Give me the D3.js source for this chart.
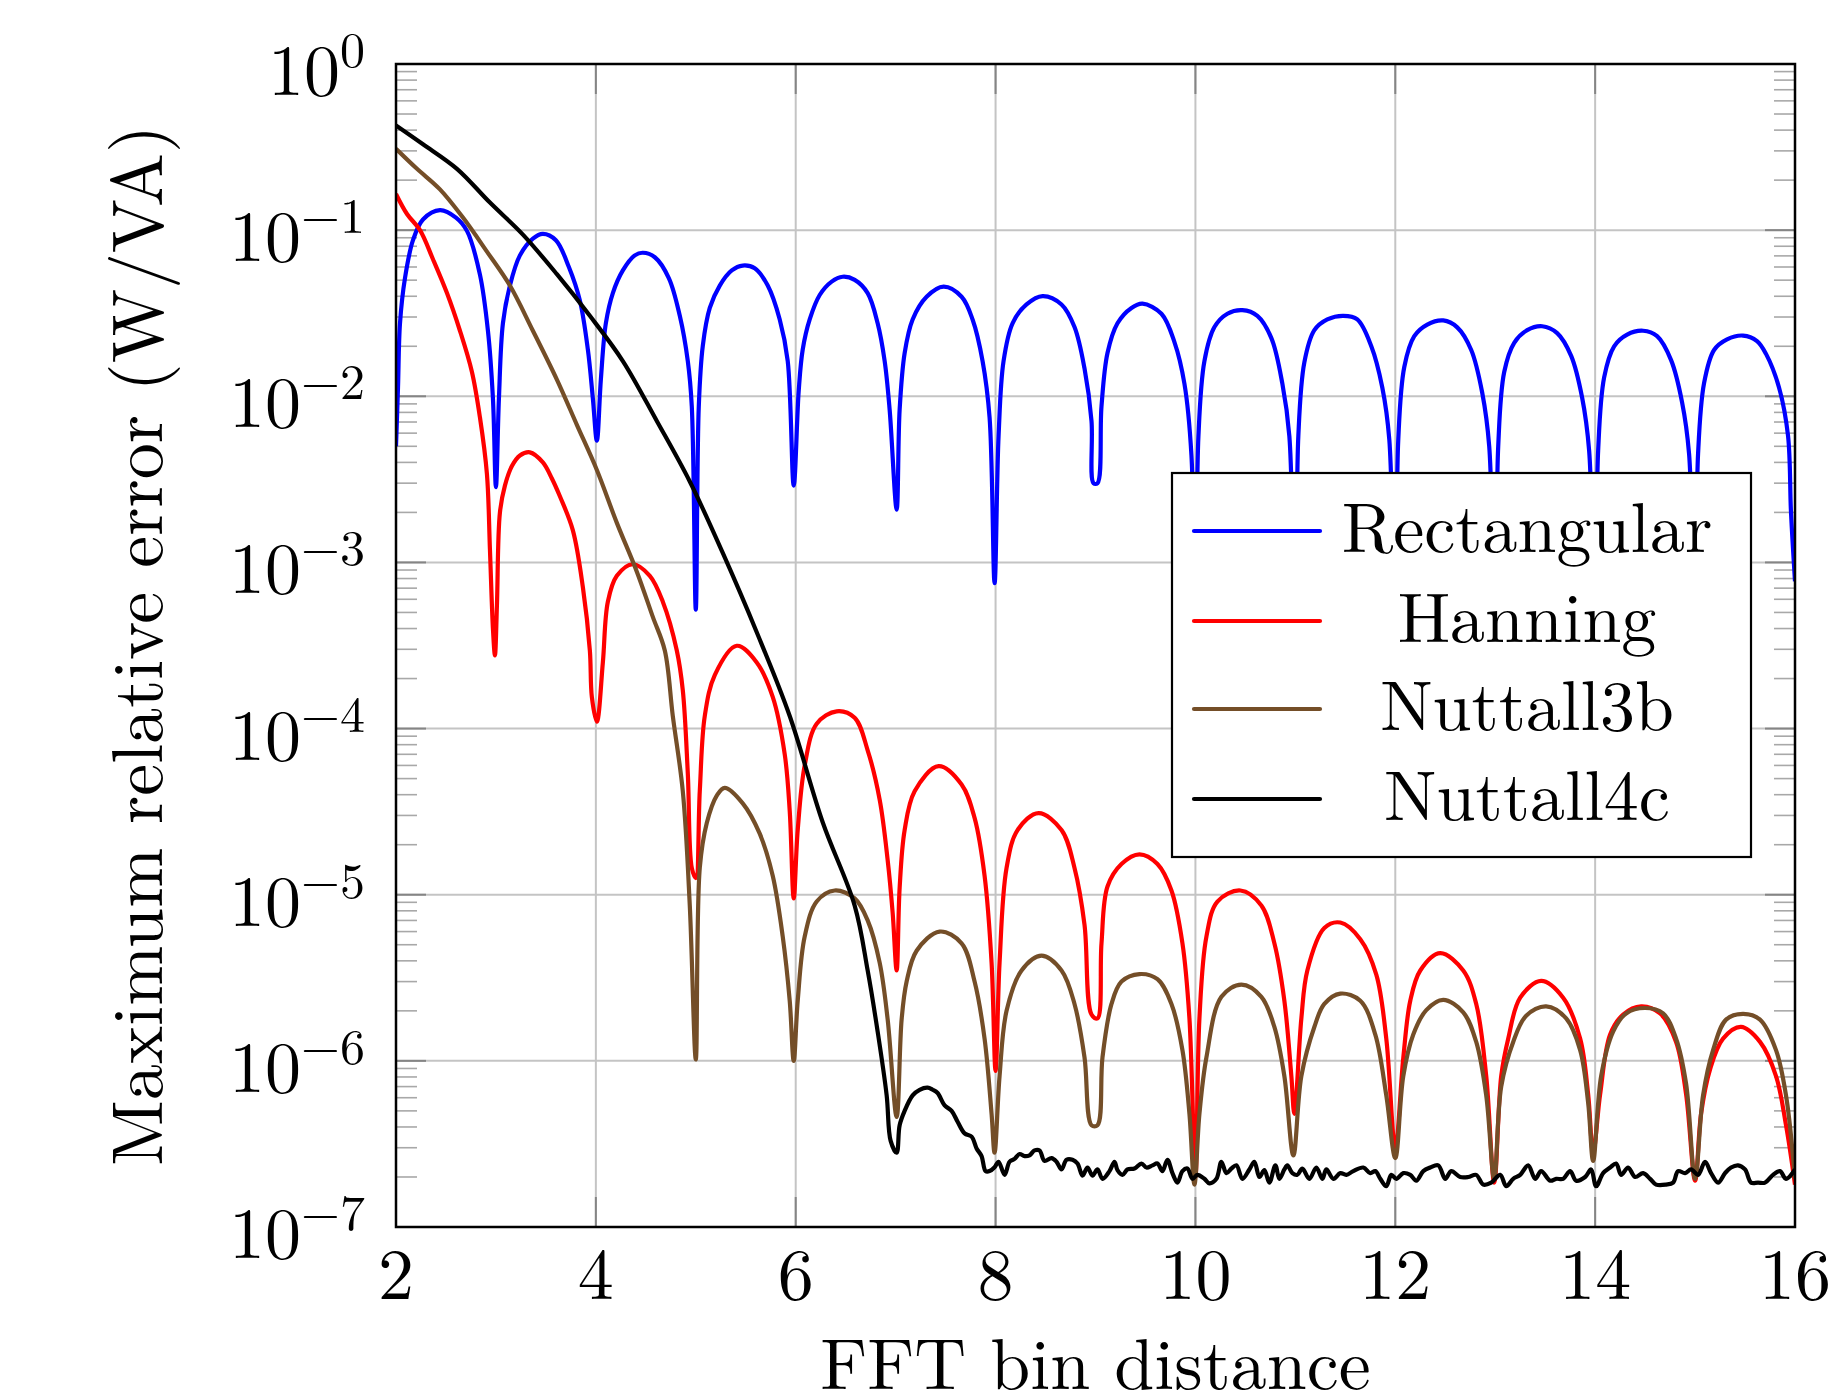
<!DOCTYPE html>
<html>
<head>
<meta charset="utf-8">
<script src="https://d3js.org/d3.v7.min.js"></script>
<style>
  body { margin: 0; background: #fff; }
  text { font-family: "Latin Modern Roman", "CMU Serif", "Liberation Serif", serif; fill: #000; }
</style>
</head>
<body>
<div id="chart"></div>
<script>
// x ticks and y decades
const xTicks = [2, 4, 6, 8, 10, 12, 14, 16];
const yDecades = [0, -1, -2, -3, -4, -5, -6, -7];
const seriesNames = ["Rectangular", "Hanning", "Nuttall3b", "Nuttall4c"];
const seriesColors = ["#0000ff", "#ff0000", "#744e28", "#000000"];

// [FFT bin distance, max relative error]
const rectangular = [
  [2.00,5.0e-3],[2.02,1.13e-2],[2.04,2.75e-2],[2.09,5.15e-2],[2.17,8.7e-2],[2.27,0.116],[2.44,0.132],[2.60,0.119],[2.71,0.099],[2.84,0.054],[2.92,0.0248],[2.97,0.0097],[3.00,0.00284],
  [3.03,0.0097],[3.07,0.0275],[3.14,0.0464],[3.24,0.0705],[3.37,0.089],[3.47,0.095],[3.60,0.087],[3.73,0.060],[3.84,0.0377],[3.92,0.0191],[3.97,0.0097],[4.01,0.0054],
  [4.05,0.0126],[4.10,0.0275],[4.17,0.0418],[4.27,0.0572],[4.39,0.0705],[4.47,0.0731],[4.59,0.0687],[4.73,0.0515],[4.84,0.0305],[4.92,0.0163],[4.96,0.0087],[5.00,5.2e-4],
  [5.03,0.0087],[5.07,0.0201],[5.14,0.034],[5.24,0.0464],[5.36,0.0572],[5.47,0.0612],[5.59,0.0589],[5.72,0.0464],[5.84,0.029],[5.92,0.0163],[5.98,0.0029],
  [6.03,0.0108],[6.07,0.0191],[6.14,0.029],[6.24,0.0407],[6.36,0.049],[6.47,0.0524],[6.59,0.0502],[6.72,0.0418],[6.82,0.0275],[6.89,0.0163],[6.94,0.0083],[7.01,0.00208],
  [7.04,0.0083],[7.09,0.0182],[7.17,0.029],[7.31,0.0397],[7.48,0.0457],[7.66,0.0397],[7.77,0.029],[7.87,0.0163],[7.94,0.00746],[7.99,7.5e-4],
  [8.03,0.00575],[8.08,0.0163],[8.17,0.0275],[8.31,0.0357],[8.47,0.0401],[8.66,0.0357],[8.79,0.0261],[8.89,0.0147],[8.96,0.0071],[8.98,0.003],[9.02,0.003],
  [9.06,0.0087],[9.12,0.0182],[9.22,0.0275],[9.36,0.034],[9.47,0.0361],[9.66,0.0314],[9.79,0.0212],[9.89,0.0119],[9.96,0.00443],[10.00,3e-4],
  [10.03,0.00575],[10.09,0.0163],[10.19,0.0261],[10.32,0.0314],[10.47,0.033],[10.62,0.0305],[10.76,0.0224],[10.87,0.0119],[10.94,0.00575],[11.00,3e-4],
  [11.03,0.0058],[11.09,0.016],[11.19,0.025],[11.32,0.029],[11.48,0.0305],[11.62,0.029],[11.76,0.020],[11.87,0.0113],[11.94,0.0055],[12.00,3e-4],
  [12.03,0.0055],[12.09,0.015],[12.19,0.023],[12.32,0.027],[12.48,0.0286],[12.62,0.026],[12.76,0.019],[12.87,0.0105],[12.94,0.005],[13.00,3e-4],
  [13.03,0.005],[13.09,0.014],[13.19,0.021],[13.32,0.025],[13.47,0.0264],[13.62,0.024],[13.76,0.0175],[13.87,0.0098],[13.94,0.0047],[14.00,3e-4],
  [14.03,0.0047],[14.09,0.013],[14.19,0.020],[14.32,0.0235],[14.48,0.0248],[14.62,0.023],[14.76,0.0165],[14.87,0.0092],[14.94,0.0045],[15.00,3e-4],
  [15.03,0.0045],[15.09,0.012],[15.19,0.019],[15.32,0.022],[15.48,0.0232],[15.62,0.0215],[15.71,0.018],[15.84,0.0113],[15.93,0.0058],[15.96,0.002],[16.00,7.7e-4]
];

const hanning = [
  [2.00,0.165],[2.11,0.125],[2.24,0.1],[2.37,0.0668],[2.51,0.0418],[2.64,0.0248],[2.76,0.014],[2.84,0.00746],[2.91,0.0034],[2.94,0.0012],[2.97,4.0e-4],[2.99,2.76e-4],
  [3.01,5.5e-4],[3.04,0.002],[3.09,0.0029],[3.16,0.0038],[3.24,0.0044],[3.34,0.0046],[3.47,0.004],[3.56,0.0032],[3.64,0.0025],[3.77,0.00156],[3.87,7.1e-4],[3.94,2.95e-4],[3.96,1.55e-4],[4.01,1.1e-4],
  [4.07,2.5e-4],[4.12,5.8e-4],[4.21,8.3e-4],[4.37,9.75e-4],[4.54,8.3e-4],[4.67,5.8e-4],[4.81,2.95e-4],[4.87,1.7e-4],[4.92,5.4e-5],[4.96,1.45e-5],[5.00,1.26e-5],
  [5.04,4.2e-5],[5.09,1.19e-4],[5.19,2.1e-4],[5.41,3.15e-4],[5.61,2.5e-4],[5.77,1.55e-4],[5.89,7.0e-5],[5.94,3.2e-5],[5.98,9.5e-6],
  [6.02,2.45e-5],[6.09,6.0e-5],[6.21,1.07e-4],[6.41,1.27e-4],[6.59,1.16e-4],[6.72,7.4e-5],[6.84,3.74e-5],[6.92,1.62e-5],[6.97,7.8e-6],[7.01,3.5e-6],
  [7.04,1.1e-5],[7.09,2.45e-5],[7.19,4.2e-5],[7.43,5.94e-5],[7.66,4.6e-5],[7.79,2.9e-5],[7.89,1.3e-5],[7.96,3.9e-6],[8.00,8.7e-7],
  [8.04,3.9e-6],[8.11,1.45e-5],[8.22,2.45e-5],[8.43,3.1e-5],[8.66,2.45e-5],[8.79,1.45e-5],[8.89,6.6e-6],[8.96,1.9e-6],[9.02,1.8e-6],
  [9.06,5.1e-6],[9.12,1.12e-5],[9.26,1.53e-5],[9.44,1.75e-5],[9.62,1.53e-5],[9.76,1.06e-5],[9.87,5.1e-6],[9.94,1.8e-6],[10.00,2.0e-7],
  [10.04,1.8e-6],[10.11,5.6e-6],[10.22,9.1e-6],[10.45,1.06e-5],[10.66,8.6e-6],[10.79,5.1e-6],[10.89,2.3e-6],[10.96,8.1e-7],[10.99,4.8e-7],
  [11.06,1.8e-6],[11.12,3.5e-6],[11.29,6.3e-6],[11.45,6.8e-6],[11.65,5.4e-6],[11.81,3.3e-6],[11.91,1.36e-6],[12.00,3.0e-7],
  [12.08,1.04e-6],[12.15,2.3e-6],[12.25,3.5e-6],[12.45,4.45e-6],[12.68,3.5e-6],[12.81,2.2e-6],[12.91,8.1e-7],[12.99,1.85e-7],
  [13.06,8.1e-7],[13.13,1.36e-6],[13.25,2.4e-6],[13.46,3.03e-6],[13.68,2.4e-6],[13.85,1.36e-6],[13.93,6.3e-7],[13.98,2.8e-7],
  [14.05,6.3e-7],[14.15,1.44e-6],[14.28,1.9e-6],[14.46,2.13e-6],[14.65,1.93e-6],[14.81,1.3e-6],[14.91,6.3e-7],[15.00,1.9e-7],
  [15.06,4.8e-7],[15.15,8.9e-7],[15.28,1.36e-6],[15.46,1.6e-6],[15.65,1.3e-6],[15.81,8.1e-7],[15.91,4.1e-7],[16.00,1.8e-7]
];

const nuttall3b = [
  [2.00,0.309],[2.21,0.234],[2.44,0.176],[2.67,0.119],[2.91,0.0743],[3.14,0.0464],[3.37,0.0248],[3.61,0.0126],[3.81,0.00673],[4.01,0.0036],[4.21,0.00173],[4.41,8.8e-4],[4.57,4.7e-4],[4.69,2.95e-4],[4.77,1.19e-4],[4.87,4.2e-5],[4.94,8.6e-6],[5.00,1.02e-6],
  [5.04,1.45e-5],[5.11,2.7e-5],[5.21,3.95e-5],[5.29,4.4e-5],[5.47,3.55e-5],[5.64,2.33e-5],[5.77,1.3e-5],[5.87,5.6e-6],[5.94,2.3e-6],[5.98,1.0e-6],
  [6.02,2.3e-6],[6.09,5.6e-6],[6.21,9.1e-6],[6.39,1.06e-5],[6.59,9.5e-6],[6.72,7.0e-6],[6.84,3.9e-6],[6.92,1.78e-6],[7.01,4.6e-7],
  [7.06,1.78e-6],[7.11,3.0e-6],[7.21,4.6e-6],[7.44,6.0e-6],[7.66,5.1e-6],[7.79,3.0e-6],[7.89,1.36e-6],[7.96,4.8e-7],[7.99,2.8e-7],
  [8.04,8.1e-7],[8.11,2.0e-6],[8.26,3.5e-6],[8.46,4.3e-6],[8.66,3.5e-6],[8.79,2.2e-6],[8.89,1.05e-6],[8.96,4.1e-7],[9.02,4.1e-7],
  [9.07,1.05e-6],[9.16,2.2e-6],[9.26,3.0e-6],[9.44,3.33e-6],[9.62,3.1e-6],[9.76,2.2e-6],[9.87,1.16e-6],[9.94,4.8e-7],[9.99,1.8e-7],
  [10.04,4.8e-7],[10.11,1.05e-6],[10.26,2.43e-6],[10.46,2.88e-6],[10.66,2.43e-6],[10.79,1.6e-6],[10.89,8.1e-7],[10.98,2.7e-7],
  [11.06,8.1e-7],[11.19,1.6e-6],[11.29,2.2e-6],[11.45,2.54e-6],[11.65,2.3e-6],[11.80,1.44e-6],[11.91,6.2e-7],[12.00,2.6e-7],
  [12.08,8.1e-7],[12.18,1.44e-6],[12.31,2.02e-6],[12.48,2.33e-6],[12.68,1.96e-6],[12.81,1.3e-6],[12.91,6.2e-7],[12.99,1.95e-7],
  [13.06,7.0e-7],[13.18,1.3e-6],[13.31,1.87e-6],[13.51,2.13e-6],[13.71,1.8e-6],[13.85,1.16e-6],[13.93,5.6e-7],[13.98,2.5e-7],
  [14.06,8.1e-7],[14.18,1.5e-6],[14.31,1.93e-6],[14.50,2.08e-6],[14.68,1.93e-6],[14.81,1.36e-6],[14.91,7.3e-7],[15.00,1.95e-7],
  [15.08,6.2e-7],[15.18,1.16e-6],[15.31,1.77e-6],[15.48,1.92e-6],[15.65,1.77e-6],[15.81,1.16e-6],[15.91,6.2e-7],[16.00,1.95e-7]
];

const nuttall4c = [
  [2.00,0.427],[2.27,0.329],[2.61,0.234],[2.94,0.1465],[3.27,0.094],[3.61,0.0543],[3.94,0.0305],[4.27,0.0163],[4.61,0.0071],[4.94,0.00307],[5.27,0.00114],[5.61,3.8e-4],[5.94,1.19e-4],[6.27,2.73e-5],[6.59,8.6e-6],[6.72,3.5e-6],[6.82,1.5e-6],[6.91,6.2e-7],[6.95,3.3e-7],[7.01,2.8e-7],
  [7.04,4.1e-7],[7.09,5.0e-7],[7.17,6.2e-7],[7.24,6.7e-7],[7.32,6.9e-7],[7.37,6.7e-7],[7.42,6.4e-7],[7.49,5.4e-7],[7.56,5.0e-7],[7.62,4.3e-7],[7.69,3.66e-7],[7.76,3.5e-7],[7.81,2.97e-7],[7.86,2.67e-7],[7.90,2.17e-7],[7.94,2.17e-7],
  [7.99,2.29e-7],[8.03,2.47e-7],[8.09,2.06e-7],[8.14,2.47e-7],[8.19,2.57e-7],[8.24,2.75e-7],[8.29,2.67e-7],[8.34,2.7e-7],[8.39,2.89e-7],[8.44,2.89e-7],[8.49,2.5e-7],[8.56,2.6e-7],[8.61,2.47e-7],[8.66,2.22e-7],[8.71,2.54e-7],[8.77,2.54e-7],[8.82,2.41e-7],[8.87,2.04e-7],[8.92,2.28e-7],[8.97,2.04e-7],
  [9.02,2.22e-7],[9.07,1.95e-7],[9.14,2.17e-7],[9.19,2.47e-7],[9.22,2.2e-7],[9.27,2.06e-7],[9.32,2.22e-7],[9.39,2.25e-7],[9.46,2.41e-7],[9.51,2.28e-7],[9.57,2.35e-7],[9.62,2.41e-7],[9.67,2.17e-7],[9.72,2.54e-7],[9.77,2.11e-7],[9.82,1.85e-7],[9.87,2.17e-7],[9.92,2.25e-7],[9.97,1.95e-7],
  [10.02,2.06e-7],[10.09,1.95e-7],[10.14,1.83e-7],[10.21,1.95e-7],[10.26,2.47e-7],[10.31,2.11e-7],[10.36,2.25e-7],[10.41,2.35e-7],[10.47,1.95e-7],[10.54,2.22e-7],[10.59,2.47e-7],[10.64,2.0e-7],[10.69,2.2e-7],[10.74,1.85e-7],[10.80,2.35e-7],[10.84,1.95e-7],[10.89,2.22e-7],[10.92,2.35e-7],[10.97,2.11e-7],
  [11.02,2.06e-7],[11.07,2.25e-7],[11.14,1.95e-7],[11.21,2.28e-7],[11.27,1.95e-7],[11.31,2.22e-7],[11.38,1.95e-7],[11.45,2.11e-7],[11.51,2.06e-7],[11.58,2.17e-7],[11.68,2.28e-7],[11.75,2.11e-7],[11.80,2.17e-7],[11.85,1.95e-7],[11.91,1.76e-7],[11.96,2.06e-7],
  [12.01,1.95e-7],[12.08,2.11e-7],[12.15,2.06e-7],[12.21,1.9e-7],[12.28,2.17e-7],[12.35,2.28e-7],[12.43,2.35e-7],[12.50,1.95e-7],[12.56,2.17e-7],[12.65,2.0e-7],[12.73,2.0e-7],[12.81,2.06e-7],[12.88,1.8e-7],[12.96,1.85e-7],
  [13.05,2.06e-7],[13.11,1.76e-7],[13.18,1.95e-7],[13.25,2.06e-7],[13.33,2.35e-7],[13.40,1.95e-7],[13.46,2.17e-7],[13.55,1.9e-7],[13.61,1.95e-7],[13.68,1.95e-7],[13.75,2.17e-7],[13.81,1.9e-7],[13.90,2.0e-7],[13.96,2.22e-7],
  [14.01,1.76e-7],[14.08,2.11e-7],[14.15,2.28e-7],[14.21,2.41e-7],[14.26,2.06e-7],[14.33,2.28e-7],[14.40,2.0e-7],[14.48,2.11e-7],[14.55,1.95e-7],[14.61,1.8e-7],[14.71,1.8e-7],[14.78,1.85e-7],[14.83,2.17e-7],[14.90,2.11e-7],[14.96,2.22e-7],
  [15.03,2.06e-7],[15.10,2.47e-7],[15.16,2.11e-7],[15.23,1.85e-7],[15.30,2.11e-7],[15.36,2.28e-7],[15.43,2.35e-7],[15.50,2.22e-7],[15.56,1.85e-7],[15.63,1.85e-7],[15.70,1.85e-7],[15.78,2.06e-7],[15.85,2.17e-7],[15.91,1.95e-7],[16.00,2.22e-7]
];

const allSeries = [rectangular, hanning, nuttall3b, nuttall4c];

// SVG dimensions
const width = 1834;
const height = 1400;
const plot = { left: 396, right: 1795, top: 64, bottom: 1227 };

const svg = d3.select("#chart")
  .append("svg")
  .attr("width", width)
  .attr("height", height);

const xScale = d3.scaleLinear()
  .domain([2, 16])
  .range([plot.left, plot.right]);

const yScale = d3.scaleLog()
  .domain([1e-7, 1])
  .range([plot.bottom, plot.top]);

// grid
const grid = svg.append("g").attr("stroke", "#c4c4c4").attr("stroke-width", 2);
grid.selectAll(".gx")
  .data(xTicks)
  .join("line")
  .attr("x1", d => xScale(d)).attr("x2", d => xScale(d))
  .attr("y1", plot.top).attr("y2", plot.bottom);
grid.selectAll(".gy")
  .data(yDecades)
  .join("line")
  .attr("y1", d => yScale(Math.pow(10, d))).attr("y2", d => yScale(Math.pow(10, d)))
  .attr("x1", plot.left).attr("x2", plot.right);

// minor ticks on left and right
const minorVals = [];
yDecades.slice(1).forEach(e => {
  for (let m = 2; m <= 9; m++) minorVals.push(m * Math.pow(10, e));
});
const minor = svg.append("g").attr("stroke", "#a8a8a8").attr("stroke-width", 1.6);
minor.selectAll(".ml")
  .data(minorVals)
  .join("line")
  .attr("x1", plot.left).attr("x2", plot.left + 21)
  .attr("y1", d => yScale(d)).attr("y2", d => yScale(d));
minor.selectAll(".mr")
  .data(minorVals)
  .join("line")
  .attr("x1", plot.right).attr("x2", plot.right - 21)
  .attr("y1", d => yScale(d)).attr("y2", d => yScale(d));

// major ticks, inward on all sides
const major = svg.append("g").attr("stroke", "#858585").attr("stroke-width", 2);
xTicks.forEach(d => {
  major.append("line").attr("x1", xScale(d)).attr("x2", xScale(d)).attr("y1", plot.bottom).attr("y2", plot.bottom - 30);
  major.append("line").attr("x1", xScale(d)).attr("x2", xScale(d)).attr("y1", plot.top).attr("y2", plot.top + 30);
});
yDecades.forEach(d => {
  const y = yScale(Math.pow(10, d));
  major.append("line").attr("x1", plot.left).attr("x2", plot.left + 30).attr("y1", y).attr("y2", y);
  major.append("line").attr("x1", plot.right).attr("x2", plot.right - 30).attr("y1", y).attr("y2", y);
});

// curves
svg.append("clipPath").attr("id", "clip")
  .append("rect")
  .attr("x", plot.left).attr("y", plot.top)
  .attr("width", plot.right - plot.left).attr("height", plot.bottom - plot.top);

const line = d3.line()
  .x(d => xScale(d[0]))
  .y(d => yScale(d[1]))
  .curve(d3.curveCatmullRom.alpha(0.5));

const curves = svg.append("g").attr("clip-path", "url(#clip)");
allSeries.forEach((s, i) => {
  curves.append("path")
    .datum(s)
    .attr("fill", "none")
    .attr("stroke", seriesColors[i])
    .attr("stroke-width", 4.2)
    .attr("stroke-linejoin", "round")
    .attr("d", line);
});

// axis box
svg.append("rect")
  .attr("x", plot.left).attr("y", plot.top)
  .attr("width", plot.right - plot.left).attr("height", plot.bottom - plot.top)
  .attr("fill", "none").attr("stroke", "#000").attr("stroke-width", 2.5);

// tick labels
svg.selectAll(".xlab")
  .data(xTicks)
  .join("text")
  .attr("x", d => xScale(d))
  .attr("y", 1299)
  .attr("text-anchor", "middle")
  .attr("font-size", 72)
  .text(d => d);

const ylab = svg.selectAll(".ylab")
  .data(yDecades)
  .join("text")
  .attr("x", 365)
  .attr("y", d => yScale(Math.pow(10, d)) + 31)
  .attr("text-anchor", "end")
  .attr("font-size", 72);
ylab.append("tspan").text("10");
ylab.append("tspan")
  .attr("dy", -28)
  .attr("font-size", 50)
  .text(d => d === 0 ? "0" : "\u2212" + (-d));

// axis titles
svg.append("text")
  .attr("x", (plot.left + plot.right) / 2)
  .attr("y", 1389)
  .attr("text-anchor", "middle")
  .attr("font-size", 72)
  .text("FFT bin distance");

svg.append("text")
  .attr("transform", `translate(162, ${(plot.top + plot.bottom) / 2}) rotate(-90)`)
  .attr("text-anchor", "middle")
  .attr("font-size", 72)
  .text("Maximum relative error (W/VA)");

// legend
const legend = svg.append("g");
legend.append("rect")
  .attr("x", 1172).attr("y", 473)
  .attr("width", 1751 - 1172).attr("height", 857 - 473)
  .attr("fill", "#fff").attr("stroke", "#000").attr("stroke-width", 2.2);
const rowY = [531, 621, 709, 799];
seriesNames.forEach((name, i) => {
  legend.append("line")
    .attr("x1", 1194).attr("x2", 1320)
    .attr("y1", rowY[i]).attr("y2", rowY[i])
    .attr("stroke", seriesColors[i]).attr("stroke-width", 4.2)
    .attr("stroke-linecap", "round");
  legend.append("text")
    .attr("x", 1527)
    .attr("y", rowY[i] + 21)
    .attr("text-anchor", "middle")
    .attr("font-size", 70)
    .text(name);
});
</script>
</body>
</html>
